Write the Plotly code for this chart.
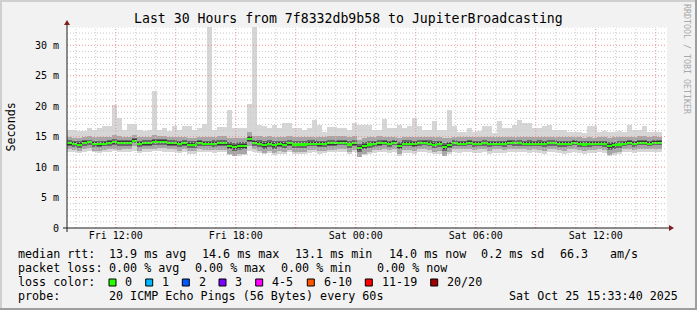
import pandas as pd
import plotly.graph_objects as go

# ---------------- data (ms) ----------------
median_ms = [
    13.93, 13.82, 13.71, 13.98, 14.09, 13.82, 13.77, 13.87, 13.98, 14.09,
    13.98, 13.98, 13.98, 14.37, 13.82, 13.93, 13.93, 14.15, 14.15, 14.15,
    13.93, 13.93, 13.82, 13.93, 13.71, 13.71, 13.98, 13.87, 13.87, 13.87,
    13.93, 13.93, 13.50, 13.30, 13.45, 13.50, 14.60, 14.00, 13.85, 13.65,
    13.85, 13.65, 13.80, 13.70, 13.95, 13.75, 13.75, 13.75, 13.90, 13.90,
    13.80, 13.80, 13.95, 13.95, 14.05, 14.05, 13.75, 13.95, 13.10, 13.50,
    13.75, 13.85, 13.95, 14.00, 13.85, 14.00, 13.50, 13.90, 13.90, 13.80,
    13.95, 14.00, 13.90, 13.70, 13.80, 13.30, 13.65, 13.95, 13.90, 13.90,
    14.00, 13.85, 13.90, 13.95, 13.80, 13.90, 13.90, 13.85, 14.00, 13.95,
    13.95, 13.90, 13.90, 13.90, 13.90, 13.80, 13.95, 13.95, 13.85, 13.80,
    13.90, 14.00, 13.85, 13.75, 13.85, 13.85, 13.90, 13.85, 13.45, 13.60,
    13.75, 13.90, 14.00, 13.85, 14.05, 14.05, 13.90, 14.05, 14.00]

ping_max_ms = [
    16.1, 16.1, 15.9, 15.9, 16.4, 16.1, 16.4, 16.7, 16.7, 20.2,
    18.1, 16.1, 17.1, 17.1, 16.1, 15.9, 16.1, 22.5, 16.1, 16.4,
    15.9, 16.7, 16.1, 16.8, 16.8, 16.1, 16.4, 17.1, 33.5, 16.1,
    16.6, 16.6, 19.4, 16.4, 16.4, 16.4, 20.3, 33.5, 16.9, 16.7,
    16.4, 16.9, 16.4, 17.2, 17.2, 16.4, 16.4, 16.1, 16.4, 17.8,
    16.9, 15.8, 16.6, 16.6, 16.4, 16.4, 16.1, 17.2, 16.9, 16.9,
    16.9, 16.1, 16.1, 17.9, 16.4, 16.4, 16.9, 16.4, 16.7, 18.0,
    16.7, 16.1, 16.1, 17.6, 16.1, 16.1, 19.4, 16.7, 15.8, 15.8,
    16.4, 15.8, 15.9, 16.7, 16.7, 15.6, 17.5, 16.4, 16.4, 16.9,
    17.8, 17.2, 17.2, 16.4, 16.4, 16.7, 16.9, 16.1, 16.1, 16.1,
    15.8, 15.8, 15.8, 15.6, 16.8, 16.8, 15.8, 15.9, 15.8, 15.8,
    15.9, 15.8, 16.9, 16.1, 16.1, 16.7, 15.8, 15.8, 15.8]

ping_min_ms = [
    12.5, 12.4, 12.3, 12.5, 12.6, 12.4, 12.3, 12.4, 12.5, 12.6,
    12.5, 12.5, 12.4, 12.7, 12.3, 12.4, 12.5, 12.6, 12.6, 12.5,
    12.4, 12.4, 12.3, 12.4, 12.2, 12.2, 12.5, 12.4, 12.4, 12.3,
    12.4, 12.4, 12.0, 11.8, 11.9, 12.0, 12.7, 12.4, 12.3, 12.1,
    12.3, 12.0, 12.2, 12.1, 12.4, 12.2, 12.2, 12.1, 12.3, 12.4,
    12.2, 12.3, 12.4, 12.4, 12.5, 12.5, 12.2, 12.4, 11.7, 12.0,
    12.2, 12.3, 12.4, 12.5, 12.3, 12.4, 11.9, 12.3, 12.3, 12.2,
    12.4, 12.4, 12.3, 12.1, 12.2, 11.8, 12.1, 12.4, 12.3, 12.4,
    12.5, 12.3, 12.3, 12.4, 12.2, 12.3, 12.3, 12.3, 12.5, 12.4,
    12.4, 12.4, 12.3, 12.4, 12.3, 12.2, 12.4, 12.4, 12.3, 12.2,
    12.3, 12.4, 12.3, 12.2, 12.3, 12.3, 12.4, 12.3, 11.8, 12.0,
    12.2, 12.4, 12.5, 12.3, 12.5, 12.5, 12.4, 12.5, 12.5]

# half-width of the 10..90 % ping band around the median
mid_spread_ms = [
    1.0, 1.0, 1.1, 1.0, 1.0, 1.1, 1.1, 1.0, 1.0, 1.1,
    1.1, 1.0, 1.0, 0.9, 1.1, 1.0, 1.0, 1.1, 1.0, 1.0,
    1.0, 1.0, 1.1, 1.0, 1.1, 1.1, 1.0, 1.0, 1.1, 1.1,
    1.1, 1.1, 1.3, 1.4, 1.3, 1.3, 1.2, 1.1, 1.2, 1.3,
    1.2, 1.3, 1.2, 1.3, 1.1, 1.2, 1.2, 1.2, 1.1, 1.1,
    1.2, 1.1, 1.1, 1.1, 1.0, 1.0, 1.2, 1.1, 1.4, 1.3,
    1.2, 1.1, 1.1, 1.0, 1.1, 1.0, 1.3, 1.1, 1.1, 1.2,
    1.0, 1.0, 1.1, 1.2, 1.1, 1.4, 1.2, 1.0, 1.0, 1.0,
    1.0, 1.1, 1.0, 1.0, 1.1, 1.0, 1.0, 1.1, 1.0, 1.0,
    1.0, 1.0, 1.1, 1.0, 1.1, 1.1, 1.0, 1.0, 1.1, 1.1,
    1.0, 1.0, 1.1, 1.1, 1.1, 1.0, 1.0, 1.1, 1.4, 1.3,
    1.2, 1.0, 1.0, 1.1, 1.0, 1.0, 1.0, 1.0, 1.0]

# half-width of the 30..70 % ping band around the median
core_spread_ms = [
    0.45, 0.45, 0.50, 0.45, 0.40, 0.50, 0.50, 0.45, 0.45, 0.45,
    0.45, 0.45, 0.45, 0.40, 0.50, 0.45, 0.45, 0.45, 0.45, 0.45,
    0.45, 0.45, 0.50, 0.45, 0.50, 0.50, 0.45, 0.45, 0.45, 0.50,
    0.50, 0.50, 0.60, 0.65, 0.60, 0.60, 0.55, 0.50, 0.55, 0.60,
    0.55, 0.60, 0.55, 0.60, 0.50, 0.55, 0.55, 0.55, 0.50, 0.50,
    0.55, 0.50, 0.50, 0.50, 0.45, 0.45, 0.55, 0.50, 0.65, 0.60,
    0.55, 0.50, 0.50, 0.45, 0.50, 0.45, 0.60, 0.50, 0.50, 0.55,
    0.45, 0.45, 0.50, 0.55, 0.50, 0.65, 0.55, 0.45, 0.45, 0.45,
    0.45, 0.50, 0.45, 0.45, 0.50, 0.45, 0.45, 0.50, 0.45, 0.45,
    0.45, 0.45, 0.50, 0.45, 0.50, 0.50, 0.45, 0.45, 0.50, 0.50,
    0.45, 0.45, 0.50, 0.50, 0.50, 0.45, 0.45, 0.50, 0.65, 0.60,
    0.55, 0.45, 0.45, 0.50, 0.45, 0.45, 0.45, 0.45, 0.45]

x_tick_times = ["2025-10-24 12:00", "2025-10-24 15:00", "2025-10-24 18:00",
                "2025-10-24 21:00", "2025-10-25 00:00", "2025-10-25 03:00",
                "2025-10-25 06:00", "2025-10-25 09:00", "2025-10-25 12:00",
                "2025-10-25 15:00"]
x_tick_labels = ["Fri 12:00", "", "Fri 18:00", "", "Sat 00:00", "",
                 "Sat 06:00", "", "Sat 12:00", ""]
y_tick_vals = [0, 5, 10, 15, 20, 25, 30]
y_tick_labels = ["0", "5 m", "10 m", "15 m", "20 m", "25 m", "30 m"]

title_text = "Last 30 Hours from 7f8332db9b58 to JupiterBroadcasting"
row1_text = ["median rtt:", "13.9 ms avg", "14.6 ms max", "13.1 ms min",
             "14.0 ms now", "0.2 ms sd", "66.3", "am/s"]
row2_text = ["packet loss:", "0.00 % avg", "0.00 % max", "0.00 % min", "0.00 % now"]
loss_labels = ["0", "1", "2", "3", "4-5", "6-10", "11-19", "20/20"]
loss_colors = ["#26ff00", "#00b8ff", "#0059ff", "#7e00ff", "#ff00ff",
               "#ff5500", "#ff0000", "#a10000"]
probe_text = "20 ICMP Echo Pings (56 Bytes) every 60s"
stamp_text = "Sat Oct 25 15:33:40 2025"

# ---------------- layout constants ----------------
W, H = 697, 310
L, R, T, B = 67, 667, 27, 228
Y_MAX = 33
start = pd.Timestamp("2025-10-24 09:33:40")
end = pd.Timestamp("2025-10-25 15:33:40")
step = pd.Timedelta(minutes=15)
centers = [start + step * i + step / 2 for i in range(len(median_ms))]
bar_w = step.total_seconds() * 1000

MONO = "DejaVu Sans Mono"
GRID = "#c8c8c8"
MGRID = "#ee9090"
AXIS = "#1f1f1f"
ARROW = "#801f1f"


def px(xp):
    return (xp - L) / (R - L)


def py(yp):
    return (B - yp) / (B - T)


fig = go.Figure()


def band(lo, hi, color):
    fig.add_trace(go.Bar(
        x=centers, base=lo, y=[h - l for h, l in zip(hi, lo)], width=bar_w,
        marker=dict(color=color, line=dict(width=0)), opacity=1,
        hoverinfo="skip", showlegend=False))


band(ping_min_ms, ping_max_ms, "#d6d6d6")
band([m - s for m, s in zip(median_ms, mid_spread_ms)],
     [m + s for m, s in zip(median_ms, mid_spread_ms)], "#a6a6a6")
band([m - s for m, s in zip(median_ms, core_spread_ms)],
     [m + s for m, s in zip(median_ms, core_spread_ms)], "#686868")
band([m - s * 0.5 for m, s in zip(median_ms, core_spread_ms)],
     [m + s * 0.5 for m, s in zip(median_ms, core_spread_ms)], "#383838")
band([m - 0.13 for m in median_ms], [m + 0.13 for m in median_ms], loss_colors[0])

shapes = []
# grid (drawn above the smoke as rrdtool does)
major_t = [pd.Timestamp(t) for t in x_tick_times]
hours = pd.date_range("2025-10-24 10:00", "2025-10-25 15:00", freq="h")
DASH = "1px,2px"
for t in hours:
    if t not in major_t:
        shapes.append(dict(type="line", xref="x", yref="paper", x0=t, x1=t, y0=0, y1=1,
                           line=dict(color=GRID, width=1, dash=DASH), layer="above"))
for v in range(1, Y_MAX + 1):
    if v % 5:
        shapes.append(dict(type="line", xref="paper", yref="y", x0=0, x1=1, y0=v, y1=v,
                           line=dict(color=GRID, width=1, dash=DASH), layer="above"))
for t in major_t:
    shapes.append(dict(type="line", xref="x", yref="paper", x0=t, x1=t, y0=0, y1=1,
                       line=dict(color=MGRID, width=1, dash=DASH), layer="above"))
for v in y_tick_vals[1:]:
    shapes.append(dict(type="line", xref="paper", yref="y", x0=0, x1=1, y0=v, y1=v,
                       line=dict(color=MGRID, width=1, dash=DASH), layer="above"))

# axes + arrows
shapes.append(dict(type="line", xref="paper", yref="paper", x0=px(63), x1=px(669),
                   y0=0, y1=0, line=dict(color=AXIS, width=1), layer="above"))
shapes.append(dict(type="line", xref="paper", yref="paper", x0=0, x1=0,
                   y0=py(232), y1=py(24), line=dict(color=AXIS, width=1), layer="above"))
shapes.append(dict(type="path", xref="paper", yref="paper",
                   path=f"M {px(64)},{py(25)} L {px(70)},{py(25)} L {px(67)},{py(20)} Z",
                   fillcolor=ARROW, line=dict(width=0), layer="above"))
shapes.append(dict(type="path", xref="paper", yref="paper",
                   path=f"M {px(669)},{py(225)} L {px(669)},{py(231)} L {px(674)},{py(228)} Z",
                   fillcolor=ARROW, line=dict(width=0), layer="above"))

# outer frame
shapes.append(dict(type="rect", xref="paper", yref="paper", x0=px(0), x1=px(W), y0=py(0), y1=py(2),
                   fillcolor="#cfcfcf", line=dict(width=0)))
shapes.append(dict(type="rect", xref="paper", yref="paper", x0=px(0), x1=px(2), y0=py(0), y1=py(H),
                   fillcolor="#cfcfcf", line=dict(width=0)))
shapes.append(dict(type="rect", xref="paper", yref="paper", x0=px(0), x1=px(W), y0=py(H - 2), y1=py(H),
                   fillcolor="#9e9e9e", line=dict(width=0)))
shapes.append(dict(type="rect", xref="paper", yref="paper", x0=px(W - 2), x1=px(W), y0=py(0), y1=py(H),
                   fillcolor="#9e9e9e", line=dict(width=0)))

annotations = []


def text(s, xp, yp, size=11.7, anchor="left", color="#000", angle=0):
    annotations.append(dict(text=s, xref="paper", yref="paper", x=px(xp), y=py(yp),
                            xanchor=anchor, yanchor="middle", showarrow=False,
                            textangle=angle, font=dict(family=MONO, size=size, color=color)))


text(title_text, 348, 19, size=13.2, anchor="center")
text("Seconds", 10, 127.5, size=11.7, anchor="center", angle=-90)
text("RRDTOOL / TOBI OETIKER", 687, 59, size=8.3, anchor="center", color="#a9a9a9", angle=90)

row1_x = [16, 107.3, 200, 292.7, 386.7, 479.3, 558.3, 607.7]
for s, xp in zip(row1_text, row1_x):
    text(s, xp, 254.3)
row2_x = [16, 107.3, 193.3, 279.3, 375]
for s, xp in zip(row2_text, row2_x):
    text(s, xp, 268.3)
text("loss color:", 16, 282.3)
box_x = [109, 145.7, 182.3, 219, 255.7, 307.3, 365.3, 430.7]
lab_x = [123.3, 160, 196.7, 233.3, 270, 321.7, 380, 445]
for s, c, bx, lx in zip(loss_labels, loss_colors, box_x, lab_x):
    shapes.append(dict(type="rect", xref="paper", yref="paper", x0=px(bx), x1=px(bx + 7),
                       y0=py(286), y1=py(279), fillcolor=c, line=dict(color="#000", width=1)))
    text(s, lx, 282.3)
text("probe:", 16, 296)
text(probe_text, 107.3, 296)
text(stamp_text, 680, 296, anchor="right")

fig.update_layout(
    width=W, height=H, margin=dict(l=L, r=W - R, t=T, b=H - B),
    paper_bgcolor="#f2f2f2", plot_bgcolor="#ffffff",
    barmode="overlay", bargap=0, showlegend=False,
    font=dict(family=MONO, size=10, color="#000"),
    shapes=shapes, annotations=annotations,
    xaxis=dict(type="date", range=[start, end], tickmode="array",
               tickvals=x_tick_times, ticktext=x_tick_labels,
               showgrid=False, zeroline=False, showline=False, ticks="",
               tickfont=dict(family=MONO, size=10, color="#000"), fixedrange=True),
    yaxis=dict(range=[0, Y_MAX], tickmode="array", tickvals=y_tick_vals,
               ticktext=y_tick_labels, showgrid=False, zeroline=False, showline=False,
               ticks="", ticklabelstandoff=7,
               tickfont=dict(family=MONO, size=10, color="#000"), fixedrange=True),
)

fig.write_html("out.html")
